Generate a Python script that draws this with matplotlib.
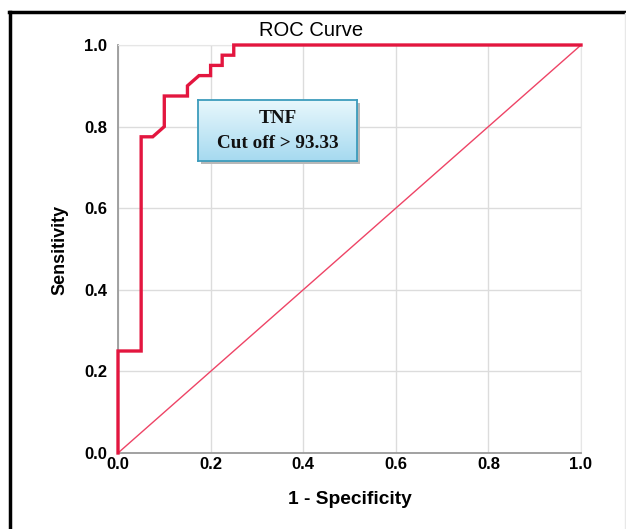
import matplotlib
matplotlib.use("Agg")
import matplotlib.pyplot as plt
import numpy as np
from matplotlib.lines import Line2D
from matplotlib.patches import Rectangle

# Data
fpr = [0.0, 0.0, 0.05, 0.05, 0.075, 0.1, 0.1, 0.15, 0.15, 0.175, 0.2, 0.2, 0.225, 0.225, 0.25, 0.25, 1.0]
tpr = [0.0, 0.25, 0.25, 0.775, 0.775, 0.8, 0.875, 0.875, 0.9, 0.925, 0.925, 0.95, 0.95, 0.975, 0.975, 1.0, 1.0]
ref_line = [0.0, 1.0]
ticks = [0.0, 0.2, 0.4, 0.6, 0.8, 1.0]
tick_labels = ["0.0", "0.2", "0.4", "0.6", "0.8", "1.0"]
title = "ROC Curve"
xlabel = "1 - Specificity"
ylabel = "Sensitivity"
box_lines = ["TNF", "Cut off > 93.33"]

W, H = 626, 529
fig = plt.figure(figsize=(W / 100, H / 100), dpi=100)
fig.patch.set_facecolor("white")

ax = fig.add_axes([118 / W, 1 - 453 / H, (581 - 118) / W, (453 - 45) / H])
ax.set_xlim(0, 1)
ax.set_ylim(0, 1)
ax.set_xticks(ticks)
ax.set_yticks(ticks)
ax.set_xticklabels(tick_labels)
ax.set_yticklabels(tick_labels)
ax.tick_params(length=0, labelsize=12)
for lab in ax.get_xticklabels() + ax.get_yticklabels():
    lab.set_fontweight("bold")
    lab.set_family("Liberation Sans")
ax.tick_params(axis="y", pad=8)
ax.tick_params(axis="x", pad=3)
ax.grid(True, color="#dcdcdc", linewidth=1.0)
ax.set_axisbelow(True)
for s in ["top", "right"]:
    ax.spines[s].set_color("#e6e6e6")
    ax.spines[s].set_linewidth(0.8)
for s in ["left", "bottom"]:
    ax.spines[s].set_color("#9a9a9a")
    ax.spines[s].set_linewidth(1.3)

ax.plot(ref_line, ref_line, color="#ee4466", linewidth=1.0, zorder=3)
ax.plot(fpr, tpr, color="#e3163f", linewidth=2.4, solid_joinstyle="miter", zorder=4, clip_on=False)

fig.text(311 / W, 1 - 30 / H, title, ha="center", va="center", fontsize=14.5,
         family="Liberation Sans")
fig.text(350 / W, 1 - 500 / H, xlabel, ha="center", va="center", fontsize=13.8,
         fontweight="bold", family="Liberation Sans")
fig.text(60 / W, 1 - 250 / H, ylabel, ha="center", va="center", fontsize=13,
         fontweight="bold", family="Liberation Sans", rotation=90)

# Annotation box with gradient
bx0, bx1, by0, by1 = 198, 357, 100, 161
shadow = Rectangle(((bx0 + 3) / W, 1 - (by1 + 3) / H), (bx1 - bx0) / W, (by1 - by0) / H,
                   transform=fig.transFigure, facecolor="#b8b8b8", edgecolor="none", zorder=5)
fig.add_artist(shadow)
bax = fig.add_axes([bx0 / W, 1 - by1 / H, (bx1 - bx0) / W, (by1 - by0) / H], zorder=6)
top_c = np.array([232, 247, 252]) / 255
bot_c = np.array([166, 218, 240]) / 255
t = np.linspace(0, 1, 64)[:, None]
grad = top_c[None, :] * (1 - t) + bot_c[None, :] * t
grad = np.repeat(grad[:, None, :], 4, axis=1)
bax.imshow(grad, aspect="auto", extent=[0, 1, 0, 1], origin="upper")
bax.set_xlim(0, 1)
bax.set_ylim(0, 1)
bax.set_xticks([])
bax.set_yticks([])
for s in bax.spines.values():
    s.set_color("#3d9cbc")
    s.set_linewidth(1.3)
bax.text(0.5, 0.70, box_lines[0], ha="center", va="center", fontsize=13.8,
         fontweight="bold", family="Liberation Serif", color="#111111")
bax.text(0.5, 0.29, box_lines[1], ha="center", va="center", fontsize=13.8,
         fontweight="bold", family="Liberation Serif", color="#111111")

# Outer border
fig.add_artist(Line2D([9.5 / W, 9.5 / W], [0, 1 - 12 / H], transform=fig.transFigure,
                      color="black", linewidth=2.5))
fig.add_artist(Line2D([8.5 / W, 1.0], [1 - 12 / H, 1 - 12 / H], transform=fig.transFigure,
                      color="black", linewidth=2.5))
fig.add_artist(Line2D([624.5 / W, 624.5 / W], [0, 1 - 13 / H], transform=fig.transFigure,
                      color="#e8e8e8", linewidth=1.0))

fig.savefig("out.png", dpi=100)
